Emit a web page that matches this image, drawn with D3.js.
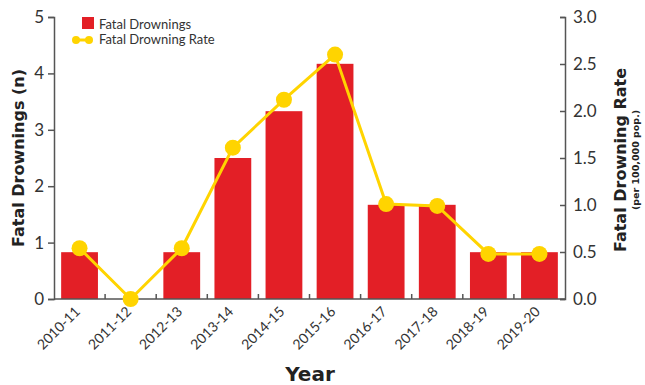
<!DOCTYPE html>
<html><head><meta charset="utf-8">
<script src="https://cdn.jsdelivr.net/npm/d3@7"></script>
<style>body{margin:0;background:#fff}svg{display:block;font-family:Lato,"Open Sans",sans-serif}</style>
</head><body><svg id="c" width="645" height="385"></svg>
<script>
const categories = ["2010-11","2011-12","2012-13","2013-14","2014-15","2015-16","2016-17","2017-18","2018-19","2019-20"];
const drownings = [0.83,0,0.83,2.5,3.33,4.17,1.67,1.67,0.83,0.83];
const rates = [0.54,0,0.54,1.61,2.12,2.6,1.01,0.99,0.48,0.48];
const leftTicks = [0,1,2,3,4,5];
const rightTicks = [0,0.5,1,1.5,2,2.5,3];

const red = "#e31f26", yellow = "#ffd400", ink = "#333";
const titleFont = "'DejaVu Sans', sans-serif";
const bodyFont = "Lato, 'Open Sans', sans-serif";
const svg = d3.select("#c");
const L = 54, R = 565, T = 17, B = 299;
const x = d3.scaleBand().domain(categories).range([L, R]).paddingInner(0.28).paddingOuter(0.14);
const xb = d3.scaleBand().domain(categories).range([L, R]);
const yL = d3.scaleLinear().domain([0,5]).range([B,T]);
const yR = d3.scaleLinear().domain([0,3]).range([B,T]);

// bars
svg.append("g").selectAll("rect").data(categories).join("rect")
  .attr("x", d => x(d)).attr("width", x.bandwidth())
  .attr("y", (d,i) => yL(drownings[i])).attr("height", (d,i) => B - yL(drownings[i]))
  .attr("fill", red);

// axes
const styleAxis = g => { g.selectAll("path,line").attr("stroke", "#555").attr("stroke-width", 1.5);
  g.selectAll("text").attr("fill", ink).style("font-family", bodyFont).style("font-size", "17px"); };
svg.append("g").attr("transform", `translate(${L},0)`)
  .call(d3.axisLeft(yL).tickValues(leftTicks).tickSize(6).tickSizeOuter(6).tickPadding(4).tickFormat(d3.format("d")))
  .call(styleAxis);
svg.append("g").attr("transform", `translate(${R},0)`)
  .call(d3.axisRight(yR).tickValues(rightTicks).tickSize(-5).tickSizeOuter(-5).tickPadding(8).tickFormat(d3.format(".1f")))
  .call(styleAxis);
// x axis baseline with inner ticks at band boundaries
const xa = svg.append("g").attr("transform", `translate(0,${B})`);
xa.append("line").attr("x1", L).attr("x2", R).attr("stroke", "#555").attr("stroke-width", 1.5);
xa.selectAll("line.tk").data(categories.slice(1)).join("line").attr("class","tk")
  .attr("x1", d => xb(d)).attr("x2", d => xb(d)).attr("y1", 0).attr("y2", -5)
  .attr("stroke", "#555").attr("stroke-width", 1.5);
xa.selectAll("text").data(categories).join("text")
  .attr("transform", d => `translate(${xb(d) + xb.bandwidth()/2 - 2},10) rotate(-45)`)
  .attr("text-anchor", "end").style("font-family", bodyFont).style("font-size", "14px").attr("fill", ink).attr("dy", "0.35em").text(d => d);

// line
const line = d3.line().x((d,i) => xb(categories[i]) + xb.bandwidth()/2).y(d => yR(d));
svg.append("path").datum(rates).attr("d", line).attr("fill", "none").attr("stroke", yellow).attr("stroke-width", 3);
svg.append("g").selectAll("circle").data(rates).join("circle")
  .attr("cx", (d,i) => xb(categories[i]) + xb.bandwidth()/2).attr("cy", d => yR(d)).attr("r", 8).attr("fill", yellow);

// titles
const title = (tr, size, txt) => svg.append("text").attr("transform", tr).attr("text-anchor","middle")
  .style("font-family", titleFont).style("font-size", size + "px").style("font-weight", "bold").attr("fill", "#222").text(txt);
title("translate(24,158) rotate(-90)", 16, "Fatal Drownings (n)");
title("translate(626,160) rotate(-90)", 16, "Fatal Drowning Rate");
title("translate(639,160) rotate(-90)", 9.5, "(per 100,000 pop.)");
title("translate(310,381)", 20, "Year");

// legend
const lg = svg.append("g");
lg.append("rect").attr("x", 82).attr("y", 17).attr("width", 12).attr("height", 12).attr("fill", red);
lg.append("text").attr("x", 99).attr("y", 29).style("font-family", bodyFont).style("font-size", "13px").attr("fill", ink).text("Fatal Drownings");
lg.append("line").attr("x1", 76).attr("x2", 89).attr("y1", 40).attr("y2", 40).attr("stroke", yellow).attr("stroke-width", 3);
lg.append("circle").attr("cx", 76).attr("cy", 40).attr("r", 4).attr("fill", yellow);
lg.append("circle").attr("cx", 89).attr("cy", 40).attr("r", 4).attr("fill", yellow);
lg.append("text").attr("x", 99).attr("y", 44).style("font-family", bodyFont).style("font-size", "13px").attr("fill", ink).text("Fatal Drowning Rate");
</script></body></html>
